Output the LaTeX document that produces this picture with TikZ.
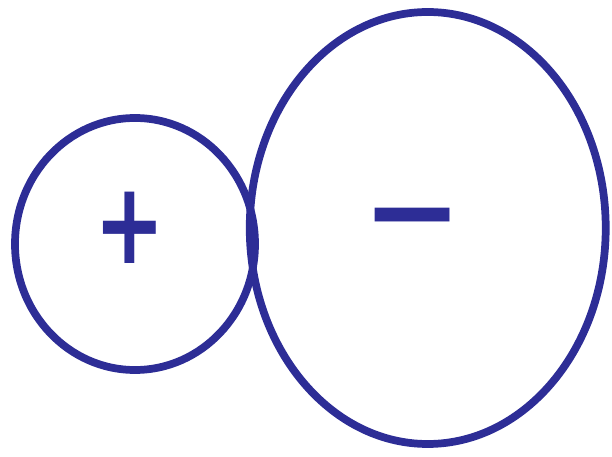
\documentclass[tikz,border=0pt]{standalone}
\usepackage{xcolor}
\usepackage{fontspec}
\newfontfamily\signfont{DejaVu Sans}
\usetikzlibrary{positioning, shapes.geometric}

\definecolor{inkblue}{RGB}{45,45,150}

\begin{document}
\begin{tikzpicture}[
        charge/.style={ellipse, draw=inkblue, line width=2.2pt, inner sep=0pt, text=inkblue},
        sign/.style={inner sep=0pt, text=inkblue},
        node distance=0mm
    ]
        \useasboundingbox (0,0) rectangle (6.12,4.56);

        \node[charge, minimum width=2.4cm, minimum height=2.52cm] (pos) at (1.35,2.12) {};
        \node[charge, minimum width=3.56cm, minimum height=4.32cm, right=-0.13cm of pos, yshift=0.16cm] (neg) {};

        \node[sign, font=\signfont\bfseries\fontsize{24}{28}\selectfont] (possign) at ([xshift=-0.05cm, yshift=0.16cm]pos.center) {\scalebox{1}[1.35]{+}};
        \node[sign, font=\signfont\bfseries\fontsize{34}{38}\selectfont] (negsign) at ([xshift=-0.15cm, yshift=-0.02cm]neg.center) {−};
    \end{tikzpicture}
\end{document}
